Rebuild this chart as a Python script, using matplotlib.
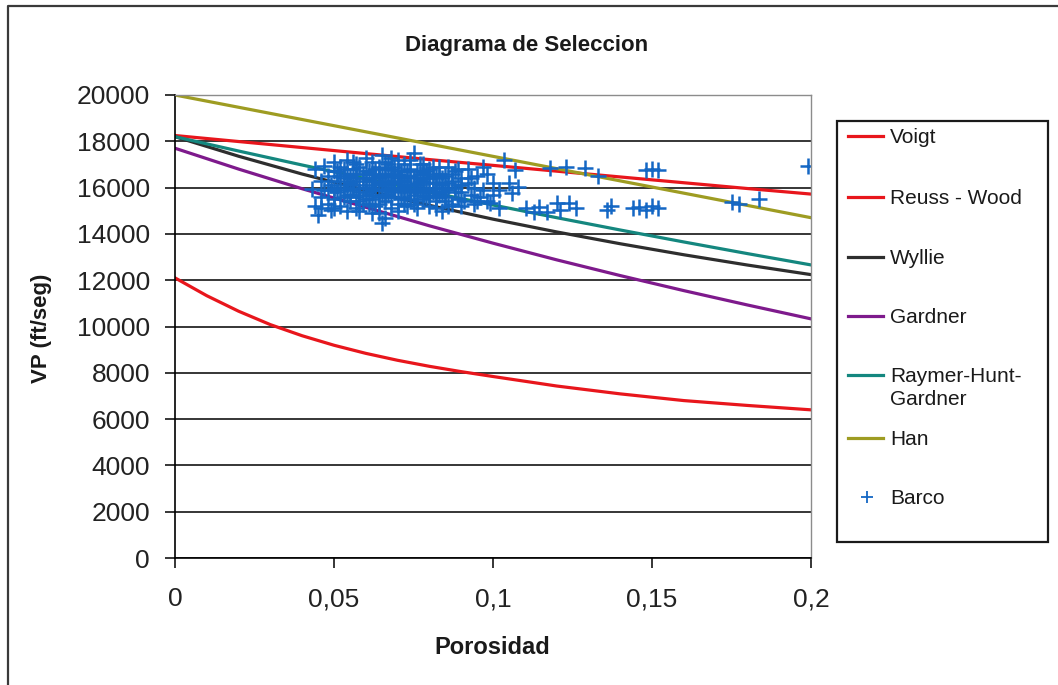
import matplotlib.pyplot as plt
from matplotlib.lines import Line2D
from matplotlib.patches import Rectangle

plt.rcParams['font.family'] = ['Liberation Sans', 'DejaVu Sans']

# curvas de velocidad vs porosidad
porosidad = [0, 0.02, 0.04, 0.06, 0.08, 0.10, 0.12, 0.14, 0.16, 0.18, 0.20]
vp_voigt = [18250, 17990, 17730, 17470, 17210, 16960, 16710, 16460, 16210, 15960, 15720]
vp_wyllie = [18200, 17355, 16585, 15881, 15234, 14637, 14086, 13575, 13099, 12655, 12241]
vp_gardner = [17700, 16800, 15950, 15150, 14350, 13600, 12880, 12200, 11550, 10930, 10330]
vp_raymer = [18200, 17580, 16975, 16386, 15809, 15248, 14701, 14169, 13652, 13149, 12660]
vp_han = [20000, 19470, 18940, 18410, 17880, 17350, 16820, 16290, 15760, 15230, 14700]

porosidad_reuss = [0, 0.01, 0.02, 0.03, 0.04, 0.05, 0.06, 0.07, 0.08, 0.09,
                   0.10, 0.12, 0.14, 0.16, 0.18, 0.20]
vp_reuss = [12100, 11330, 10660, 10080, 9600, 9190, 8840, 8540, 8280, 8050,
            7840, 7430, 7090, 6800, 6590, 6400]

# datos del pozo Barco
porosidad_barco = [
    0.043, 0.044, 0.044, 0.045, 0.046, 0.046, 0.047, 0.047, 0.048, 0.048, 0.049, 0.049, 0.050, 0.050, 0.050,
    0.051, 0.051, 0.052, 0.052, 0.053, 0.053, 0.054, 0.054, 0.055, 0.055, 0.056, 0.056, 0.057, 0.057, 0.057,
    0.058, 0.058, 0.059, 0.059, 0.060, 0.060, 0.060,
    0.061, 0.061, 0.062, 0.062, 0.062, 0.063, 0.063, 0.063, 0.064, 0.064, 0.064, 0.065, 0.065, 0.065, 0.065,
    0.066, 0.066, 0.066, 0.067, 0.067, 0.067, 0.068, 0.068, 0.068, 0.069, 0.069, 0.069, 0.070, 0.070, 0.070,
    0.071, 0.071, 0.072, 0.072, 0.072, 0.073, 0.073, 0.073, 0.074, 0.074, 0.075, 0.075, 0.075, 0.076, 0.076,
    0.077, 0.077, 0.078, 0.078, 0.078, 0.079, 0.079, 0.080, 0.080,
    0.081, 0.081, 0.082, 0.082, 0.083, 0.083, 0.084, 0.084, 0.085, 0.085, 0.086, 0.086, 0.087, 0.087, 0.088,
    0.088, 0.089, 0.089, 0.090, 0.090,
    0.091, 0.092, 0.092, 0.093, 0.094, 0.094, 0.095, 0.096, 0.097, 0.097, 0.098, 0.099, 0.100, 0.100,
    0.055, 0.056, 0.058, 0.059, 0.060, 0.061, 0.062, 0.063, 0.064, 0.065, 0.066, 0.067, 0.068, 0.069, 0.070,
    0.071, 0.072, 0.073, 0.074, 0.075, 0.076, 0.077, 0.078, 0.079, 0.080, 0.081, 0.082, 0.083, 0.084, 0.085,
    0.063, 0.066, 0.068, 0.071, 0.074, 0.057, 0.053, 0.051, 0.087, 0.089,
    0.052, 0.054, 0.056, 0.058, 0.060, 0.062, 0.064, 0.066, 0.068, 0.070, 0.072, 0.074, 0.076, 0.078, 0.080,
    0.082, 0.084, 0.086,
    0.053, 0.055, 0.057, 0.059, 0.061, 0.063, 0.065, 0.067, 0.069, 0.071, 0.073, 0.075, 0.077, 0.079, 0.081,
    0.083, 0.085, 0.088,
    0.048, 0.050, 0.052, 0.054, 0.056, 0.058, 0.060, 0.062, 0.064, 0.066, 0.068, 0.070, 0.072, 0.074, 0.076,
    0.078, 0.080, 0.082, 0.090, 0.093,
    0.046, 0.050, 0.054, 0.058, 0.062, 0.064, 0.066, 0.070, 0.076, 0.082, 0.086, 0.090, 0.095, 0.098,
    0.102, 0.102, 0.1036, 0.105, 0.106, 0.107, 0.108, 0.1105, 0.113, 0.1146, 0.117, 0.118, 0.120, 0.121,
    0.123, 0.124, 0.126, 0.129, 0.133, 0.136, 0.137, 0.144, 0.146, 0.148, 0.148, 0.150, 0.150, 0.152,
    0.152, 0.175, 0.1774, 0.1837, 0.199,
]
vp_barco = [
    15950, 16800, 15200, 14800, 16300, 15600, 16950, 15900, 15300, 16500, 15050, 16100, 16700, 15500, 17100,
    15800, 16300, 15200, 16900, 16000, 15600, 16600, 17200, 15400, 16200, 15900, 16800, 15100, 16400, 17000,
    15700, 16100, 16600, 15300, 16300, 17300, 15800,
    16000, 16700, 15500, 16400, 17100, 15900, 16600, 15200, 16200, 16900, 14900, 14450, 15700, 16500, 17400,
    16100, 15400, 16800, 15900, 16300, 17000, 15600, 16600, 15100, 16200, 16900, 15800, 16400, 15300, 17200,
    16000, 16700, 15600, 16300, 17000, 15900, 16500, 15200, 16100, 16800, 15700, 16400, 17500, 15400, 16200,
    16600, 15900, 16300, 15500, 17000, 16000, 16700, 15200, 16400,
    15800, 16900, 16200, 15400, 16600, 15700, 16100, 15000, 16500, 15600, 16900, 15900, 16300, 15300, 15800,
    16700, 16100, 15500, 16400, 15800,
    15400, 16200, 16800, 15700, 15300, 16000, 16500, 15600, 16900, 15900, 15400, 15330, 16200, 15700,
    16500, 16000, 16900, 16400, 15500, 15300, 15900, 16100, 15600, 16200, 16500, 15700, 16000, 16500, 15900,
    16300, 15900, 16700, 15500, 16000, 16700, 16300, 15800, 16400, 15900, 16200, 16600, 16000, 16400, 16000,
    16800, 17100, 16800, 15500, 16500, 15600, 16400, 16700, 16600, 16800,
    15900, 16100, 16300, 15800, 16700, 16000, 16400, 15900, 16200, 16600, 16100, 15800, 16100, 16700, 15700,
    16000, 15800, 16200,
    16800, 15700, 16600, 16000, 15700, 16300, 15900, 16600, 16000, 16500, 16100, 15300, 17000, 15600, 16500,
    16900, 15400, 16000,
    15900, 16000, 16500, 15700, 17100, 15400, 16000, 16600, 16500, 15700, 17300, 16700, 15300, 17200, 15800,
    16600, 16800, 15600, 16100, 16400,
    15100, 15100, 15000, 15000, 14900, 15300, 14700, 15000, 15100, 15100, 15200, 15200, 15400, 16600,
    15900, 15120, 17200, 16200, 15770, 16760, 16030, 15120, 14950, 15160, 14950, 16830, 15330, 15030,
    16910, 15330, 15120, 16830, 16520, 15050, 15200, 15100, 15150, 16750, 15050, 16800, 15200, 16750,
    15100, 15390, 15300, 15520, 16950,
]

series = ['Voigt', 'Reuss - Wood', 'Wyllie', 'Gardner', 'Raymer-Hunt-\nGardner', 'Han', 'Barco']
colores = ['#E8161C', '#E8161C', '#2E2E2E', '#7E1A8C', '#14877F', '#9E9C22', '#1467C4']

W, H = 1058, 685


def fx(px):
    return px / W


def fy(py):
    return 1 - py / H


fig = plt.figure(figsize=(10.58, 6.85), dpi=100)
ax = fig.add_axes([fx(175), fy(558), fx(811) - fx(175), fy(95) - fy(558)])

lw = 2.3
ax.plot(porosidad, vp_voigt, color=colores[0], lw=lw)
ax.plot(porosidad_reuss, vp_reuss, color=colores[1], lw=lw)
ax.plot(porosidad, vp_wyllie, color=colores[2], lw=lw)
ax.plot(porosidad, vp_gardner, color=colores[3], lw=lw)
ax.plot(porosidad, vp_raymer, color=colores[4], lw=lw)
ax.plot(porosidad, vp_han, color=colores[5], lw=lw)
ax.plot(porosidad_barco, vp_barco, linestyle='none', marker='+', markersize=12,
        markeredgewidth=1.8, color=colores[6])

ax.set_xlim(0, 0.2)
ax.set_ylim(0, 20000)
ax.set_xticks([0, 0.05, 0.1, 0.15, 0.2])
ax.set_xticklabels(['0', '0,05', '0,1', '0,15', '0,2'])
ax.set_yticks(range(0, 20001, 2000))
ax.set_yticklabels([str(v) for v in range(0, 20001, 2000)])
ax.tick_params(axis='both', direction='out', length=7, width=1.1, color='black',
               labelsize=19, labelcolor='#222222')
ax.tick_params(axis='y', pad=11)
ax.tick_params(axis='x', pad=14)

ax.grid(axis='y', color='black', lw=1.1)
ax.set_axisbelow(True)
for lado in ['left', 'bottom']:
    ax.spines[lado].set_color('black')
    ax.spines[lado].set_linewidth(1.2)
for lado in ['top', 'right']:
    ax.spines[lado].set_color('#8C8C8C')
    ax.spines[lado].set_linewidth(1.0)

fig.text(fx(527), fy(45), 'Diagrama de Seleccion', ha='center', va='center',
         fontsize=16, weight='bold', color='#1A1A1A')
fig.text(fx(492), fy(648), 'Porosidad', ha='center', va='center',
         fontsize=17, weight='bold', color='#1A1A1A')
fig.text(fx(42), fy(328), 'VP (ft/seg)', ha='center', va='center', rotation=90,
         fontsize=16, weight='bold', color='#1A1A1A')

# marco exterior del grafico
fig.add_artist(Line2D([fx(8), fx(8), 1.0], [0, fy(6), fy(6)], transform=fig.transFigure,
                      color='#3A3A3A', lw=1.6))

# leyenda
fig.add_artist(Rectangle((fx(837), fy(542)), fx(1048) - fx(837), fy(121) - fy(542),
                         transform=fig.transFigure, facecolor='white', edgecolor='#1A1A1A', lw=1.6))
filas = [136, 197, 257, 316, 375, 438, 497]
for nombre, color, yy in zip(series, colores, filas):
    if nombre == 'Barco':
        fig.add_artist(Line2D([fx(867)], [fy(yy)], transform=fig.transFigure, linestyle='none',
                              marker='+', markersize=9, markeredgewidth=1.3, color=color))
    else:
        fig.add_artist(Line2D([fx(848), fx(883)], [fy(yy), fy(yy)], transform=fig.transFigure,
                              color=color, lw=lw))
    for k, linea in enumerate(nombre.split('\n')):
        fig.text(fx(890), fy(yy + 23 * k + 7), linea, ha='left', va='baseline',
                 fontsize=15, color='#1A1A1A')

fig.savefig('out.png', dpi=100)
